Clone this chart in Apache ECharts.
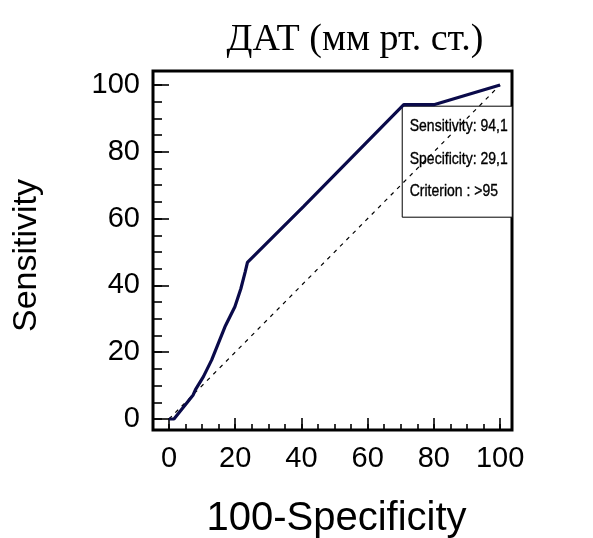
<!DOCTYPE html>
<html>
<head>
<meta charset="utf-8">
<script src="https://cdn.jsdelivr.net/npm/echarts@6/dist/echarts.min.js"></script>
<style>html,body{margin:0;padding:0;background:#fff}#c{width:593px;height:538px}</style>
</head>
<body>
<div id="c"></div>
<script>
// ROC curve vertices (100-Specificity, Sensitivity)
const rocX = [0, 1.5, 7.3, 8.0, 10.4, 12.9, 16.9, 19.9, 21.7, 23.0, 23.7, 40.6, 70.9, 80.0, 100];
const rocY = [0, 0, 7.2, 8.8, 12.7, 17.7, 27.6, 33.6, 39.0, 44.0, 46.9, 63.6, 94.1, 94.1, 100];
// reference diagonal
const diagX = [0, 100];
const diagY = [0, 100];
// tick labels
const majorTicks = [0, 20, 40, 60, 80, 100];
const minorTicks = [0,5,10,15,20,25,30,35,40,45,50,55,60,65,70,75,80,85,90,95,100];
// criterion point
const critPoint = [70.9, 94.1];
const critLines = ['Sensitivity: 94,1', 'Specificity: 29,1', 'Criterion : >95'];
const titleText = 'ДАТ (мм рт. ст.)';

const chart = echarts.init(document.getElementById('c'));
const font = 'Liberation Sans, Arial, sans-serif';
const xMin = -4.83, xMax = 103.6, yMin = -3.29, yMax = 104.19;

function axisCommon(isX, major, showLabel, len) {
  return {
    type: 'value',
    position: isX ? 'bottom' : 'left',
    offset: 0,
    min: isX ? xMin : yMin,
    max: isX ? xMax : yMax,
    axisLine: { show: false, onZero: false },
    splitLine: { show: false },
    axisTick: {
      show: true, inside: true, length: len,
      customValues: major ? majorTicks : minorTicks,
      lineStyle: { color: '#000', width: 1.6 }
    },
    axisLabel: {
      show: showLabel,
      customValues: majorTicks,
      color: '#000', fontFamily: font, fontSize: 29,
      margin: isX ? 14 : 13
    }
  };
}

const xMajor = Object.assign(axisCommon(true, true, true, 12), {
  name: '100-Specificity', nameLocation: 'middle', nameGap: 69,
  nameTextStyle: { color: '#000', fontFamily: font, fontSize: 40, padding: [0, 0, 0, 8] }
});
const xMinor = axisCommon(true, false, false, 6);
const yMajor = Object.assign(axisCommon(false, true, true, 16), {
  name: 'Sensitivity', nameLocation: 'middle', nameGap: 109,
  nameTextStyle: { color: '#000', fontFamily: font, fontSize: 34, padding: [0, 10, 0, 0] }
});
const yMinor = axisCommon(false, false, false, 9);

chart.setOption({
  animation: false,
  backgroundColor: '#fff',
  title: {
    text: titleText, left: 350, top: 16, textAlign: 'center',
    textStyle: { fontFamily: 'Liberation Serif, Times New Roman, serif', fontWeight: 'normal', fontSize: 38, color: '#000' }
  },
  grid: { left: 153, top: 71, width: 359, height: 359, containLabel: false, outerBoundsMode: 'none',
          show: true, borderColor: '#000', borderWidth: 3, backgroundColor: 'transparent' },
  xAxis: [xMajor, xMinor],
  yAxis: [yMajor, yMinor],
  series: [
    {
      type: 'line', xAxisIndex: 0, yAxisIndex: 0,
      data: diagX.map((v, i) => [v, diagY[i]]),
      symbol: 'none', silent: true,
      lineStyle: { color: '#000', width: 1.2, type: [4, 5] }
    },
    {
      type: 'line', xAxisIndex: 0, yAxisIndex: 0,
      data: rocX.map((v, i) => [v, rocY[i]]),
      symbol: 'none',
      lineStyle: { color: '#0a0a4a', width: 3.2 }
    }
  ]
});

// criterion annotation box anchored at the criterion point
const p = chart.convertToPixel({ xAxisIndex: 0, yAxisIndex: 0 }, critPoint);
const lineOffsets = [22, 55, 87];
chart.setOption({
  graphic: [{
    type: 'group', x: p[0], y: p[1], z: 100,
    children: [
      { type: 'rect', shape: { x: -1.5, y: 1.5, width: 110, height: 111 },
        style: { fill: '#fff', stroke: '#000', lineWidth: 1 } }
    ].concat(critLines.map((t, i) => ({
      type: 'text', x: 6, y: lineOffsets[i], scaleY: 1.2,
      style: { text: t, font: '14px "Liberation Sans", Arial, sans-serif', fill: '#000',
               stroke: '#000', lineWidth: 0.3,
               align: 'left', verticalAlign: 'middle', textAlign: 'left', textVerticalAlign: 'middle' }
    })))
  }]
});
</script>
</body>
</html>
